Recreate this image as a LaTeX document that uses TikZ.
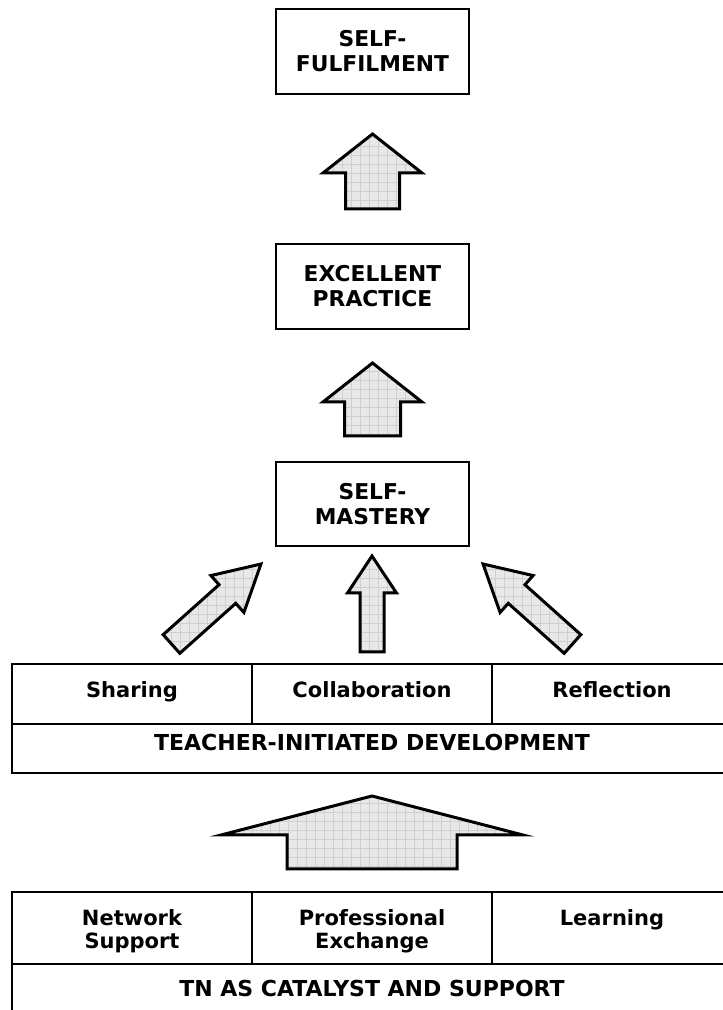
\documentclass[tikz,border=0pt]{standalone}
\usepackage{fontspec}
\setmainfont{DejaVu Sans}
\usetikzlibrary{positioning,patterns}

\pgfdeclarepatternformonly{netgrid}{\pgfqpoint{-1pt}{-1pt}}{\pgfqpoint{10pt}{10pt}}{\pgfqpoint{9pt}{9pt}}{
  \pgfsetlinewidth{0.6pt}
  \pgfpathmoveto{\pgfqpoint{0pt}{0pt}}\pgfpathlineto{\pgfqpoint{9.1pt}{0pt}}
  \pgfpathmoveto{\pgfqpoint{0pt}{0pt}}\pgfpathlineto{\pgfqpoint{0pt}{9.1pt}}
  \pgfusepath{stroke}}

\tikzset{
  goal/.style={draw=black,line width=1.6pt,minimum width=193pt,minimum height=85pt,
    inner sep=0pt,align=center,font=\bfseries\fontsize{21.8}{25}\selectfont},
  cell/.style={draw=black,line width=1.6pt,minimum width=240pt,inner sep=0pt},
  celltext/.style={inner sep=0pt,align=center,font=\bfseries\fontsize{21}{23.5}\selectfont},
  captext/.style={celltext,font=\bfseries\fontsize{22}{24}\selectfont},
  arrowfill/.style={draw=black,line width=3pt,line join=miter,
    preaction={fill=gray!18},pattern=netgrid,pattern color=gray!38},
  pics/blockarr/.style n args={4}{code={
    \path[arrowfill] (-#4,0) -- (-#4,#1-#2) -- (-#3,#1-#2) -- (0,#1)
      -- (#3,#1-#2) -- (#4,#1-#2) -- (#4,0) -- cycle;}}
}

\begin{document}
\begin{tikzpicture}[x=1pt,y=1pt]
\useasboundingbox (0,0) rectangle (723,1010);

\node[goal] (fulfil) at (372.5,958.5) {SELF-\\FULFILMENT};
\node[goal] (practice) at (372.5,723.5) {EXCELLENT\\PRACTICE};
\node[goal,minimum height=84pt] (mastery) at (372.5,506) {SELF-\\MASTERY};

\pic at (372.5,801) {blockarr={75}{39}{49.5}{27}};
\pic at (372.5,574) {blockarr={73}{39}{49.5}{28}};
\pic at (372,358) {blockarr={96}{37}{24.5}{12}};
\pic[rotate=-48.2] at (171.5,366) {blockarr={120}{45}{24.75}{12.5}};
\pic[rotate=48.2] at (572.5,366) {blockarr={120}{45}{24.75}{12.5}};
\pic at (372,141) {blockarr={73}{39}{151}{85}};

\node[cell,minimum height=60pt] (share) at (132,316) {};
\node[cell,minimum height=60pt] (collab) at (372,316) {};
\node[cell,minimum height=60pt] (reflect) at (612,316) {};
\node[cell,minimum width=720pt,minimum height=49pt] (tid) at (372,261.5) {};
\node[celltext,below=18pt of share.north] (sharetxt) {Sharing};
\node[celltext,below=18pt of collab.north] (collabtxt) {Collaboration};
\node[celltext,below=18pt of reflect.north] (reflecttxt) {Reflection};
\node[captext] (tidtxt) at ([yshift=6pt]tid.center) {TEACHER-INITIATED DEVELOPMENT};

\node[cell,minimum height=72pt] (netsup) at (132,82) {};
\node[cell,minimum height=72pt] (profex) at (372,82) {};
\node[cell,minimum height=72pt] (learn) at (612,82) {};
\node[cell,minimum width=720pt,minimum height=86pt] (tn) at (372,3) {};
\node[celltext,below=18pt of netsup.north] (netsuptxt) {Network\\Support};
\node[celltext,below=18pt of profex.north] (profextxt) {Professional\\Exchange};
\node[celltext,below=18pt of learn.north] (learntxt) {Learning};
\node[captext,below=17pt of tn.north] (tntxt) {TN AS CATALYST AND SUPPORT};

\end{tikzpicture}
\end{document}
